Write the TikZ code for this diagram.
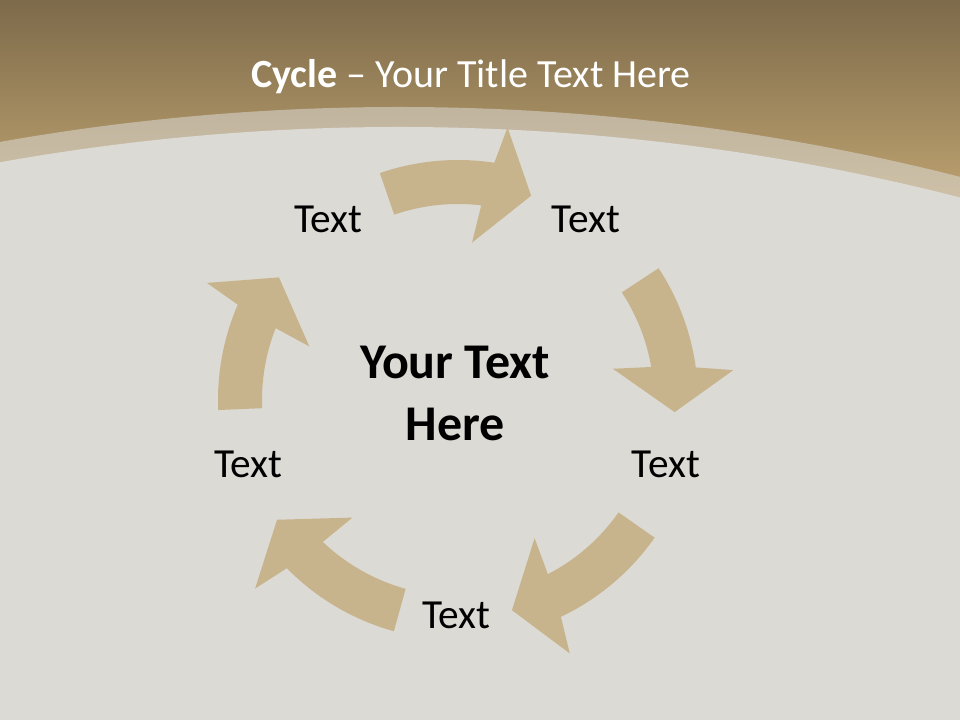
\documentclass[tikz,border=0pt]{standalone}
\usepackage{fontspec}
\setmainfont{Carlito}
\usepackage{tikz}
\usepackage{xcolor}
\definecolor{linen}{HTML}{DCDAD5}
\definecolor{bandtop}{HTML}{7D6A4A}
\definecolor{bandlow}{HTML}{C4A874}
\definecolor{arrowtan}{HTML}{C8B48C}

\begin{document}
\begin{tikzpicture}[x=0.75pt, y=0.75pt,
    cyclearrow/.style={fill=arrowtan, draw=none},
    steplabel/.style={inner sep=0pt, font=\fontsize{31}{37}\selectfont},
    corelabel/.style={inner sep=0pt, align=center, font=\bfseries\fontsize{37.5}{46.5}\selectfont}]
        \useasboundingbox (0, 0) rectangle (960, 720);
        % Background
        \fill [linen] (0, 0) rectangle (960, 720);
        % Top band
        \begin{scope}
            \clip (0, 0) rectangle (960, 720);
            \shade [top color=bandtop, bottom color=bandlow] (0, 500) rectangle (960, 720);
            \fill [linen, opacity=0.55] (399, -1657) circle (2270);
            \fill [linen] (399, -1657) circle (2250);
        \end{scope}
        % Title
        \node [anchor=base, text=white, inner sep=0pt, font=\fontsize{30}{36}\selectfont] (title) at (471, 632)
            {\textbf{Cycle} -- Your Title Text Here};
        % Arrows
        \begin{scope}[shift={(458, 320)}]
            \foreach \tl/\tp in {109/70.3, 33.3/-3.2, -35/-75.6, -105.5/-146.5, 182.4/145.6}
                \fill [cyclearrow] (\tl:240) arc [start angle=\tl, end angle=\tp+11, radius=240]
                    -- ({\tp+9.4}:277) -- (\tp:217) -- ({\tp+14.6}:158) -- ({\tp+12.9}:196)
                    arc [start angle=\tp+12.9, end angle=\tl, radius=196] -- cycle;
        \end{scope}
        % Labels
        \node [steplabel] (stepa) at (328.5, 500.5) {Text};
        \node [steplabel] (stepb) at (586, 500.5) {Text};
        \node [steplabel] (stepc) at (666, 255.5) {Text};
        \node [steplabel] (stepd) at (456.5, 105) {Text};
        \node [steplabel] (stepe) at (248.5, 255.5) {Text};
        % Centre
        \node [corelabel] (core) at (455, 326.5) {Your Text\\Here};
    \end{tikzpicture}
\end{document}
